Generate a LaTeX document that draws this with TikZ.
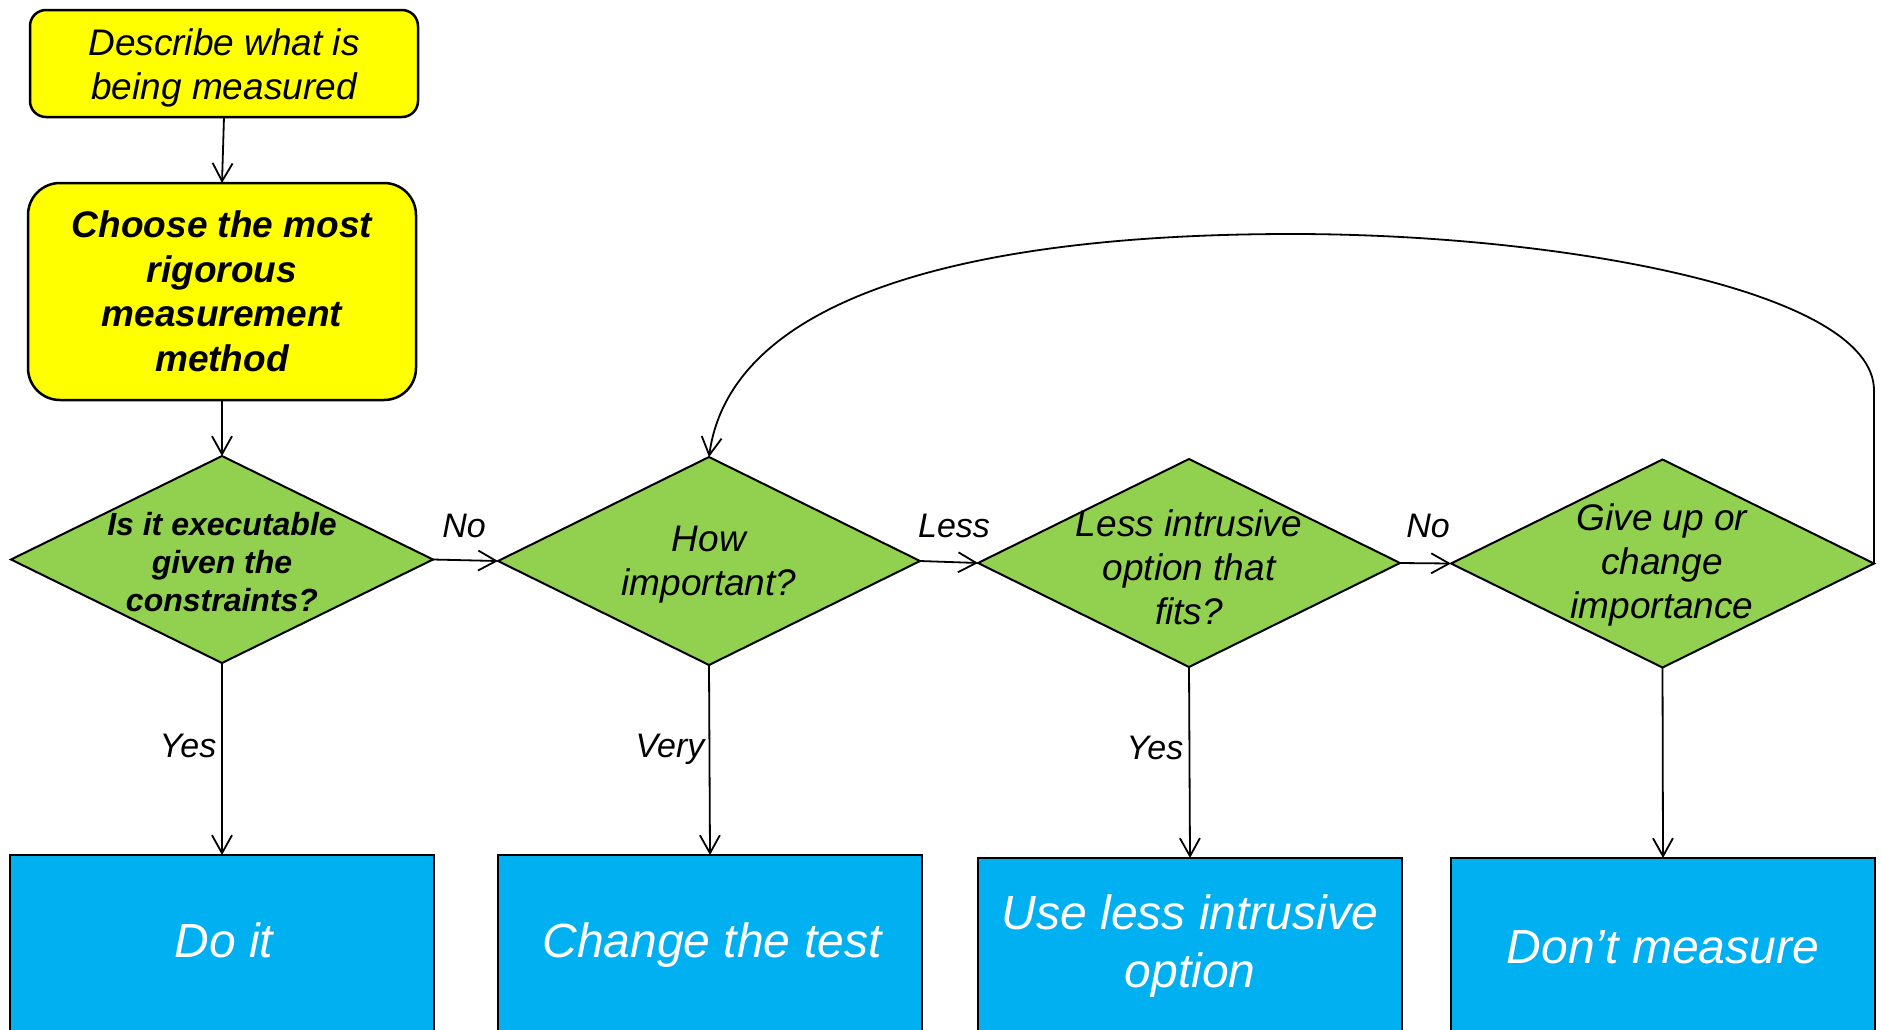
\documentclass[tikz,border=0pt]{standalone}
\usepackage{fontspec}
\setmainfont{Liberation Sans}
\usetikzlibrary{shapes.geometric,arrows.meta}
\definecolor{yel}{HTML}{FFFF00}
\definecolor{grn}{HTML}{92D050}
\definecolor{blu}{HTML}{00B0F0}
\begin{document}
\begin{tikzpicture}[x=1pt,y=-1pt,
  ybox/.style={draw=black,fill=yel,line width=2.5pt,rounded corners=#1,inner sep=0pt,outer sep=0pt},
  ybox/.default=16pt,
  dia/.style={diamond,draw=black,fill=grn,line width=2pt,inner sep=0pt,outer sep=0pt,minimum width=422pt,minimum height=208pt},
  rbox/.style={rectangle,draw=black,fill=blu,line width=2pt,inner sep=0pt,outer sep=0pt,minimum width=424pt,minimum height=300pt,anchor=north},
  txt/.style={font=\fontsize{37}{44}\selectfont\itshape,align=center,inner sep=0pt},
  wtxt/.style={font=\fontsize{48}{57.6}\selectfont\itshape,text=white,align=center,inner sep=0pt},
  lab/.style={font=\fontsize{34}{40}\selectfont\itshape,anchor=base,inner sep=0pt},
  conn/.style={line width=1.8pt,-{Straight Barb[length=18pt,width=20pt,line width=1.8pt]}}
]
\useasboundingbox (0,0) rectangle (1881,1029);
\clip (0,0) rectangle (1881,1029);

% yellow boxes
\node[ybox=16pt,minimum width=388pt,minimum height=107pt] (b1) at (224,63.5) {};
\node[txt] (t1) at (224,68) {Describe what is\\being measured};
\node[ybox=32pt,minimum width=388pt,minimum height=217pt] (b2) at (222,291.5) {};
\node[txt,font=\fontsize{37}{44.5}\selectfont\bfseries\itshape] (t2) at (222,291.5) {Choose the most\\rigorous\\measurement\\method};

% diamonds
\node[dia,minimum height=207pt] (d1) at (222,559.5) {};
\node[txt,font=\fontsize{32}{38.3}\selectfont\bfseries\itshape] (t3) at (222,562) {Is it executable\\given the\\constraints?};
\node[dia] (d2) at (709,561) {};
\node[txt] (t4) at (709,565) {How\\important?};
\node[dia] (d3) at (1189,563) {};
\node[txt] (t5) at (1189,567.5) {Less intrusive\\option that\\fits?};
\node[dia,minimum width=423pt] (d4) at (1662.5,563.5) {};
\node[txt] (t6) at (1662,565) {Give up or\\change\\importance};

% blue boxes
\node[rbox] (r1) at (222,855) {};
\node[rbox] (r2) at (710,855) {};
\node[rbox] (r3) at (1190,858) {};
\node[rbox] (r4) at (1663,858) {};
\node[wtxt,anchor=base] (t7) at (224,957) {Do it};
\node[wtxt,anchor=base] (t8) at (712,957) {Change the test};
\node[wtxt] (t9) at (1190,946) {Use less intrusive\\option};
\node[wtxt,anchor=base] (t10) at (1663,963) {Don’t measure};

% connectors
\draw[conn] (b1.south) -- (b2.north);
\draw[conn] (b2.south) -- (d1.north);
\draw[conn] (d1.east) -- (d2.west);
\draw[conn] (d2.east) -- (d3.west);
\draw[conn] (d3.east) -- (d4.west);
\draw[conn] (d1.south) -- (r1.north);
\draw[conn] (d2.south) -- (r2.north);
\draw[conn] (d3.south) -- (r3.north);
\draw[conn] (d4.south) -- (r4.north);
\draw[conn] (d4.east) -- ++(0,-173) .. controls ++(0,-100) and (1560,234) .. (1292,234)
  .. controls (960,234) and (730,300) .. (d2.north);

% labels
\node[lab] (l1) at (464,537) {No};
\node[lab] (l2) at (954,537) {Less};
\node[lab] (l3) at (1428,537) {No};
\node[lab] (l4) at (188,757) {Yes};
\node[lab] (l5) at (670,757) {Very};
\node[lab] (l6) at (1155,759) {Yes};
\end{tikzpicture}
\end{document}
